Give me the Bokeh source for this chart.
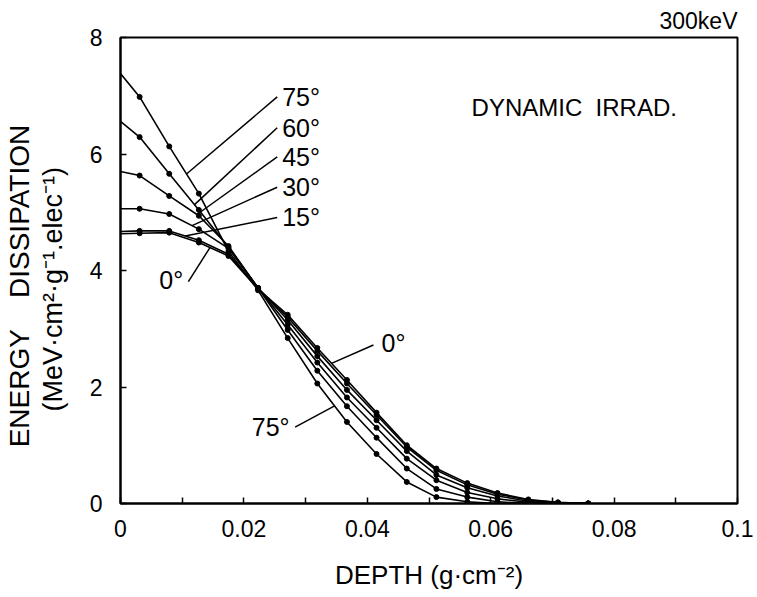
import numpy as np
from bokeh.plotting import figure
from bokeh.models import Range1d, FixedTicker, NumeralTickFormatter, Label, LinearAxis
from bokeh.embed import file_html
from bokeh.resources import INLINE

# ---------------- data ----------------
DEPTH = [0.0, 0.0031, 0.0079, 0.0127, 0.0175, 0.0223, 0.0271, 0.0319, 0.0367,
         0.0415, 0.0464, 0.0512, 0.0562, 0.0611, 0.0661, 0.0709, 0.0758]
E_0 = [4.63, 4.64, 4.65, 4.48, 4.25, 3.68, 3.24, 2.67, 2.12, 1.56, 1.00, 0.60, 0.35, 0.18, 0.07, 0.02, 0.0]
E_15 = [4.67, 4.68, 4.68, 4.52, 4.28, 3.69, 3.20, 2.62, 2.06, 1.52, 0.97, 0.57, 0.32, 0.16, 0.06, 0.015, 0.0]
E_30 = [5.06, 5.06, 4.97, 4.71, 4.38, 3.70, 3.15, 2.53, 1.95, 1.43, 0.90, 0.49, 0.27, 0.13, 0.04, 0.01, 0.0]
E_45 = [5.70, 5.63, 5.28, 4.94, 4.42, 3.70, 3.07, 2.42, 1.82, 1.30, 0.77, 0.40, 0.19, 0.08, 0.02, 0.0, 0.0]
E_60 = [6.56, 6.29, 5.66, 5.04, 4.40, 3.70, 2.98, 2.28, 1.67, 1.13, 0.60, 0.25, 0.11, 0.03, 0.0, 0.0, 0.0]
E_75 = [7.38, 6.98, 6.13, 5.32, 4.33, 3.66, 2.84, 2.06, 1.40, 0.85, 0.37, 0.11, 0.03, 0.0, 0.0, 0.0, 0.0]
SERIES = {"0°": E_0, "15°": E_15, "30°": E_30, "45°": E_45, "60°": E_60, "75°": E_75}

X_TICKS = [0, 0.02, 0.04, 0.06, 0.08, 0.1]
X_MINOR = [0.01, 0.03, 0.05, 0.07, 0.09]
Y_TICKS = [0, 2, 4, 6, 8]

FONT = "Liberation Sans"
NB = "\u00a0"

p = figure(width=757, height=597, x_range=Range1d(0, 0.1), y_range=Range1d(0, 8),
           output_backend="svg", toolbar_location=None, title="300keV",
           min_border_left=118, min_border_right=20, min_border_top=37, min_border_bottom=94)
p.background_fill_color = "white"
p.border_fill_color = "white"
p.grid.visible = False
p.outline_line_color = "black"
p.outline_line_width = 2

p.title.align = "right"
p.title.text_font = FONT
p.title.text_font_size = "23px"
p.title.text_font_style = "normal"
p.title.text_color = "black"
p.title.standoff = 7

for ax in (p.xaxis[0], p.yaxis[0]):
    ax.axis_line_width = 2
    ax.axis_line_color = "black"
    ax.major_tick_in = 6
    ax.major_tick_out = 0
    ax.major_tick_line_width = 1.5
    ax.minor_tick_in = 6
    ax.minor_tick_out = 0
    ax.minor_tick_line_width = 1.5
    ax.major_label_text_font = FONT
    ax.major_label_text_font_size = "23px"
    ax.major_label_text_color = "black"
    ax.axis_label_text_font = FONT
    ax.axis_label_text_font_style = "normal"
    ax.axis_label_text_color = "black"

p.xaxis.ticker = FixedTicker(ticks=X_TICKS, minor_ticks=X_MINOR)
p.xaxis.formatter = NumeralTickFormatter(format="0.[00]")
p.xaxis.major_label_standoff = 16
p.xaxis.axis_label = "DEPTH (g·cm⁻²)"
p.xaxis.axis_label_text_font_size = "26px"
p.xaxis.axis_label_standoff = 20

p.yaxis.ticker = FixedTicker(ticks=Y_TICKS)
p.yaxis.minor_tick_line_color = None
p.yaxis.major_label_standoff = 18
p.yaxis.axis_label = "(MeV·cm²·g⁻¹.elec⁻¹)" + NB * 5
p.yaxis.axis_label_text_font_size = "27px"
p.yaxis.axis_label_standoff = 19

outer = LinearAxis(ticker=FixedTicker(ticks=[]), axis_line_color=None,
                   major_tick_line_color=None, minor_tick_line_color=None,
                   major_label_standoff=0, axis_label_standoff=0,
                   axis_label="ENERGY" + NB * 4 + "DISSIPATION" + NB * 4,
                   axis_label_text_font=FONT, axis_label_text_font_size="28px",
                   axis_label_text_font_style="normal", axis_label_text_color="black")
p.add_layout(outer, "left")

# curves
for name, vals in SERIES.items():
    p.line(DEPTH, vals, line_color="black", line_width=1.6)
    p.scatter(DEPTH[1:], vals[1:], size=5, marker="circle", fill_color="black", line_color="black")

# angle labels with leader lines
UP_NAMES = ["75°", "60°", "45°", "30°", "15°"]
UP_LABEL_Y = [6.98, 6.45, 5.95, 5.43, 4.91]
UP_END_X = [0.0107, 0.0120, 0.0124, 0.0116, 0.0105]
LAB_X = 0.0262
LEAD_X = 0.0254
for name, ly, ex in zip(UP_NAMES, UP_LABEL_Y, UP_END_X):
    ey = float(np.interp(ex, DEPTH, SERIES[name]))
    p.segment(x0=[LEAD_X], y0=[ly], x1=[ex], y1=[ey], line_color="black", line_width=1.5)
    p.add_layout(Label(x=LAB_X, y=ly, text=name, text_font=FONT, text_font_size="25px",
                       text_baseline="middle", text_align="left", text_color="black"))

# other leaders: (name, label x, label y, lead start x, lead start y, end depth, align)
OTHERS = [("0°", 0.0063, 3.84, 0.0110, 3.81, 0.0145, "left"),
          ("0°", 0.0423, 2.76, 0.0410, 2.72, 0.0342, "left"),
          ("75°", 0.0274, 1.31, 0.0283, 1.31, 0.0347, "right")]
for name, lx, ly, sx, sy, ex, al in OTHERS:
    ey = float(np.interp(ex, DEPTH, SERIES[name]))
    p.segment(x0=[sx], y0=[sy], x1=[ex], y1=[ey], line_color="black", line_width=1.5)
    p.add_layout(Label(x=lx, y=ly, text=name, text_font=FONT, text_font_size="25px",
                       text_baseline="middle", text_align=al, text_color="black"))

p.add_layout(Label(x=0.0569, y=6.80, text="DYNAMIC" + NB * 2 + "IRRAD.", text_font=FONT,
                   text_font_size="24px", text_baseline="middle", text_align="left", text_color="black"))

open("out.html", "w").write(file_html(p, INLINE))
